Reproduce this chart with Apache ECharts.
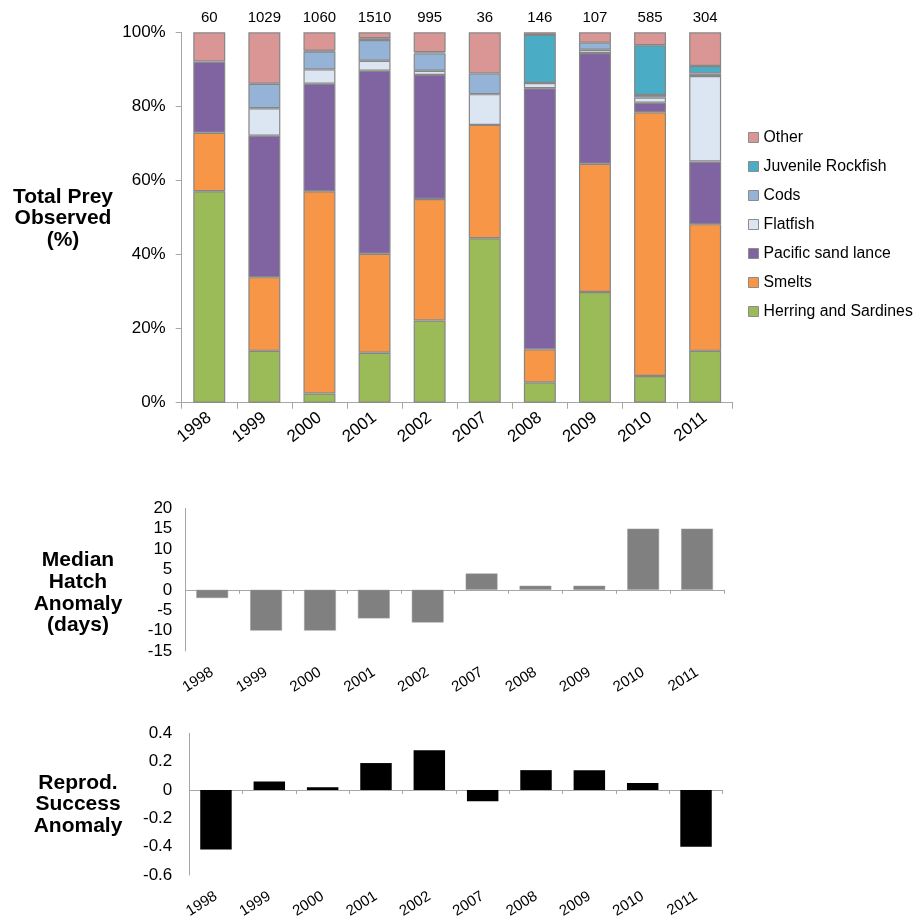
<!DOCTYPE html>
<html>
<head>
<meta charset="utf-8">
<script src="https://cdn.jsdelivr.net/npm/echarts@6/dist/echarts.min.js"></script>
<style>
  html, body { margin: 0; padding: 0; background: #fff; }
  #chart { width: 913px; height: 923px; }
</style>
</head>
<body>
<div id="chart"></div>
<script>
// Study years
const years = ['1998', '1999', '2000', '2001', '2002', '2007', '2008', '2009', '2010', '2011'];
// Number of prey items observed per year
const preyCounts = [60, 1029, 1060, 1510, 995, 36, 146, 107, 585, 304];

// Prey composition (% of total prey observed), bottom of stack first
const herring = [57.1, 14.0, 2.5, 13.5, 22.2, 44.4, 5.5, 29.9, 7.2, 14.0];
const smelts = [15.8, 19.9, 54.6, 26.7, 32.8, 30.6, 8.9, 34.6, 71.2, 34.2];
const sandLance = [19.2, 38.2, 29.0, 49.4, 33.5, 0, 70.5, 29.9, 2.6, 16.9];
const flatfish = [0, 7.4, 3.9, 2.7, 1.1, 8.3, 1.4, 0.9, 1.4, 23.1];
const cods = [0, 6.6, 4.8, 5.6, 4.7, 5.6, 0, 1.9, 0.7, 0.7];
const juvRockfish = [0, 0, 0.2, 0.5, 0.3, 0, 13.0, 0, 13.4, 2.0];
const other = [7.9, 13.9, 5.0, 1.6, 5.4, 11.1, 0.7, 2.8, 3.5, 9.1];

// Median hatch date anomaly (days)
const hatchAnomaly = [-2, -10, -10, -7, -8, 4, 1, 1, 15, 15];
// Reproductive success anomaly
const reprodAnomaly = [-0.42, 0.06, 0.02, 0.19, 0.28, -0.08, 0.14, 0.14, 0.05, -0.40];

const preyGroups = [
  { name: 'Herring and Sardines', data: herring, color: '#9BBB59' },
  { name: 'Smelts', data: smelts, color: '#F79646' },
  { name: 'Pacific sand lance', data: sandLance, color: '#8064A2' },
  { name: 'Flatfish', data: flatfish, color: '#DCE6F2' },
  { name: 'Cods', data: cods, color: '#95B3D7' },
  { name: 'Juvenile Rockfish', data: juvRockfish, color: '#4BACC6' },
  { name: 'Other', data: other, color: '#D99694' }
];

const FONT = 'Liberation Sans, Arial, Helvetica, sans-serif';
const AXIS_GRAY = '#a6a6a6';

const chart = echarts.init(document.getElementById('chart'), null, { renderer: 'canvas' });

const yearLabel = (margin, size, angle) => ({
  rotate: angle, margin: margin, color: '#000', fontSize: size, fontFamily: FONT, interval: 0
});

const option = {
  animation: false,
  backgroundColor: '#fff',
  textStyle: { fontFamily: FONT },
  grid: [
    { left: 181.7, top: 32.3, width: 551, height: 370.4 },
    { left: 185.3, top: 508.3, width: 538.7, height: 142.7 },
    { left: 189.3, top: 733.3, width: 533.4, height: 141.7 }
  ],
  legend: {
    orient: 'vertical',
    left: 748,
    top: 129,
    padding: 0,
    itemWidth: 10,
    itemHeight: 10,
    itemGap: 12,
    icon: 'rect',
    data: ['Other', 'Juvenile Rockfish', 'Cods', 'Flatfish', 'Pacific sand lance', 'Smelts', 'Herring and Sardines'],
    textStyle: { fontSize: 15.8, color: '#000', fontFamily: FONT, lineHeight: 17 },
    itemStyle: { borderColor: '#8c8c8c', borderWidth: 1 }
  },
  xAxis: [
    // composition chart: year axis
    {
      type: 'category', gridIndex: 0, data: years, position: 'bottom',
      axisLine: { lineStyle: { color: AXIS_GRAY, width: 1 } },
      axisTick: { show: true, length: 6, lineStyle: { color: AXIS_GRAY } },
      axisLabel: yearLabel(13, 17, 38)
    },
    // composition chart: prey counts above the bars
    {
      type: 'category', gridIndex: 0, data: preyCounts.map(String), position: 'top',
      axisLine: { show: false }, axisTick: { show: false },
      axisLabel: { margin: 7, color: '#000', fontSize: 15, fontFamily: FONT, interval: 0 }
    },
    // hatch anomaly: zero line with ticks
    {
      type: 'category', gridIndex: 1, data: years,
      axisLine: { onZero: true, lineStyle: { color: AXIS_GRAY, width: 1 } },
      axisTick: { show: true, length: 4, lineStyle: { color: AXIS_GRAY } },
      axisLabel: { show: false }
    },
    // hatch anomaly: year labels below the plot
    {
      type: 'category', gridIndex: 1, data: years, position: 'bottom',
      axisLine: { show: false, onZero: false }, axisTick: { show: false },
      axisLabel: yearLabel(20, 15, 32)
    },
    // reproductive success: zero line with ticks
    {
      type: 'category', gridIndex: 2, data: years,
      axisLine: { onZero: true, lineStyle: { color: AXIS_GRAY, width: 1 } },
      axisTick: { show: true, length: 4, lineStyle: { color: AXIS_GRAY } },
      axisLabel: { show: false }
    },
    // reproductive success: year labels below the plot
    {
      type: 'category', gridIndex: 2, data: years, position: 'bottom',
      axisLine: { show: false, onZero: false }, axisTick: { show: false },
      axisLabel: yearLabel(20, 15, 32)
    }
  ],
  yAxis: [
    {
      type: 'value', gridIndex: 0, min: 0, max: 100, interval: 20,
      axisLine: { show: true, lineStyle: { color: AXIS_GRAY, width: 1 } },
      axisTick: { show: true, length: 6, lineStyle: { color: AXIS_GRAY } },
      splitLine: { show: false },
      axisLabel: { formatter: '{value}%', margin: 16, color: '#000', fontSize: 17, fontFamily: FONT }
    },
    {
      type: 'value', gridIndex: 1, min: -15, max: 20, interval: 5,
      axisLine: { show: true, lineStyle: { color: AXIS_GRAY, width: 1 } },
      axisTick: { show: false },
      splitLine: { show: false },
      axisLabel: { margin: 13, color: '#000', fontSize: 17, fontFamily: FONT }
    },
    {
      type: 'value', gridIndex: 2, min: -0.6, max: 0.4, interval: 0.2,
      axisLine: { show: true, lineStyle: { color: AXIS_GRAY, width: 1 } },
      axisTick: { show: false },
      splitLine: { show: false },
      axisLabel: {
        margin: 17, color: '#000', fontSize: 17, fontFamily: FONT,
        formatter: (v) => (Math.abs(v) < 1e-9 ? '0' : v.toFixed(1))
      }
    }
  ],
  series: [
    ...preyGroups.map((g) => ({
      name: g.name,
      type: 'bar',
      stack: 'prey',
      xAxisIndex: 0,
      yAxisIndex: 0,
      barCategoryGap: '42%',
      data: g.data.map((v) => (v > 0 ? v : null)),
      itemStyle: { color: g.color, borderColor: '#868686', borderWidth: 1.2 }
    })),
    {
      name: 'Median Hatch Anomaly',
      type: 'bar',
      xAxisIndex: 2,
      yAxisIndex: 1,
      barCategoryGap: '41%',
      data: hatchAnomaly,
      itemStyle: { color: '#808080', borderColor: '#9a9a9a', borderWidth: 0.5 }
    },
    {
      name: 'Reprod. Success Anomaly',
      type: 'bar',
      xAxisIndex: 4,
      yAxisIndex: 2,
      barCategoryGap: '41%',
      data: reprodAnomaly,
      itemStyle: { color: '#000' }
    }
  ],
  graphic: [
    {
      type: 'text', x: 63, y: 218.3,
      style: {
        text: 'Total Prey\nObserved\n(%)', fill: '#000',
        font: 'bold 21px ' + FONT, lineHeight: 21.5,
        align: 'center', verticalAlign: 'middle'
      }
    },
    {
      type: 'text', x: 78, y: 593,
      style: {
        text: 'Median\nHatch\nAnomaly\n(days)', fill: '#000',
        font: 'bold 21px ' + FONT, lineHeight: 21.8,
        align: 'center', verticalAlign: 'middle'
      }
    },
    {
      type: 'text', x: 78, y: 804.5,
      style: {
        text: 'Reprod.\nSuccess\nAnomaly', fill: '#000',
        font: 'bold 21px ' + FONT, lineHeight: 21.5,
        align: 'center', verticalAlign: 'middle'
      }
    }
  ]
};

chart.setOption(option);
</script>
</body>
</html>
